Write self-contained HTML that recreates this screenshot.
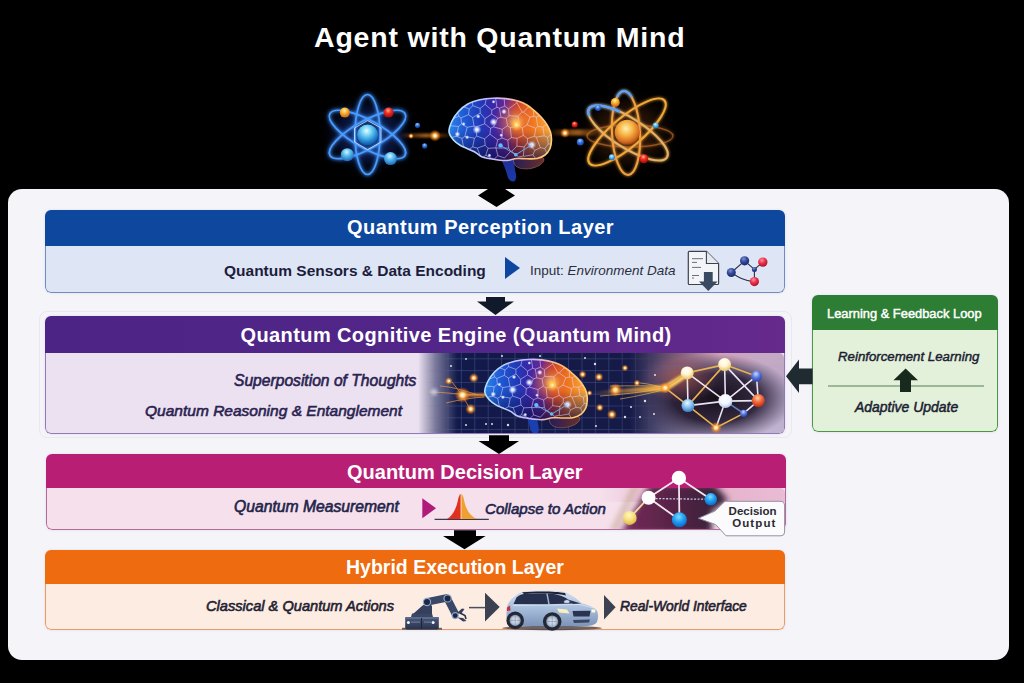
<!DOCTYPE html>
<html><head><meta charset="utf-8">
<style>
*{margin:0;padding:0;box-sizing:border-box}
html,body{width:1024px;height:683px;overflow:hidden;background:#000}
body{position:relative;font-family:"Liberation Sans",sans-serif}
.a{position:absolute}
.t{position:absolute;white-space:nowrap;line-height:1}
#title{left:314px;top:22.8px;font-size:28.5px;font-weight:bold;color:#fff;letter-spacing:0.8px}
#panel{left:8px;top:189px;width:1001px;height:471px;background:#f5f4f9;border-radius:14px}
.box{position:absolute;border-radius:6px;overflow:hidden;box-shadow:0 0 3px rgba(70,50,110,0.10)}
.hd{position:absolute;left:0;top:0;right:0}
.bd{position:absolute;left:0;right:0;bottom:0;border:1px solid;border-top:none;border-radius:0 0 6px 6px}
.hw{color:#fff;font-weight:bold}
.bi{font-weight:bold;font-style:italic}
.md{font-style:italic;-webkit-text-stroke:0.6px currentColor}
svg{position:absolute;overflow:visible}
</style></head><body>
<div class="t" id="title">Agent with Quantum Mind</div>

<!-- TOPART --><svg width="1024" height="200" style="left:0;top:0" viewBox="0 0 1024 200">
 <defs>
  <filter id="gl" x="-50%" y="-50%" width="200%" height="200%"><feGaussianBlur stdDeviation="1.6" result="b"/><feMerge><feMergeNode in="b"/><feMergeNode in="SourceGraphic"/></feMerge></filter>
  <filter id="bl2" x="-50%" y="-50%" width="200%" height="200%"><feGaussianBlur stdDeviation="2.5"/></filter>
  <filter id="bl1" x="-50%" y="-50%" width="200%" height="200%"><feGaussianBlur stdDeviation="1"/></filter>
  <radialGradient id="a1bg" cx="0.5" cy="0.5" r="0.5"><stop offset="0" stop-color="#1a3a8a" stop-opacity="0.9"/><stop offset="0.6" stop-color="#0c1a50" stop-opacity="0.6"/><stop offset="1" stop-color="#000" stop-opacity="0"/></radialGradient>
  <radialGradient id="nucB" cx="0.45" cy="0.3" r="0.7"><stop offset="0" stop-color="#e8fbff"/><stop offset="0.35" stop-color="#6cd0f5"/><stop offset="0.8" stop-color="#1a78c8"/><stop offset="1" stop-color="#0e4e98"/></radialGradient>
  <radialGradient id="ballB" cx="0.45" cy="0.3" r="0.7"><stop offset="0" stop-color="#e0f6ff"/><stop offset="0.4" stop-color="#5cc0f0"/><stop offset="1" stop-color="#1868b8"/></radialGradient>
  <radialGradient id="ballO" cx="0.45" cy="0.3" r="0.7"><stop offset="0" stop-color="#fff0a0"/><stop offset="0.45" stop-color="#f8b030"/><stop offset="1" stop-color="#c86010"/></radialGradient>
  <radialGradient id="ballR" cx="0.45" cy="0.3" r="0.7"><stop offset="0" stop-color="#ffb0a0"/><stop offset="0.4" stop-color="#f03020"/><stop offset="1" stop-color="#a00808"/></radialGradient>
  <radialGradient id="ballDB" cx="0.45" cy="0.3" r="0.7"><stop offset="0" stop-color="#a0d0ff"/><stop offset="0.5" stop-color="#3070e0"/><stop offset="1" stop-color="#1840a0"/></radialGradient>
  <radialGradient id="glowO" cx="0.5" cy="0.5" r="0.5"><stop offset="0" stop-color="#fffdf0"/><stop offset="0.25" stop-color="#ffe0a0"/><stop offset="0.5" stop-color="#ffa030" stop-opacity="0.75"/><stop offset="1" stop-color="#ff6000" stop-opacity="0"/></radialGradient>
  <radialGradient id="glowW" cx="0.5" cy="0.5" r="0.5"><stop offset="0" stop-color="#fff"/><stop offset="0.35" stop-color="#e0e8ff" stop-opacity="0.9"/><stop offset="1" stop-color="#a0b0ff" stop-opacity="0"/></radialGradient>
  <radialGradient id="a2bg" cx="0.5" cy="0.5" r="0.5"><stop offset="0" stop-color="#6a3010" stop-opacity="0.8"/><stop offset="0.6" stop-color="#301808" stop-opacity="0.5"/><stop offset="1" stop-color="#000" stop-opacity="0"/></radialGradient>
  <radialGradient id="nucG" cx="0.45" cy="0.35" r="0.65"><stop offset="0" stop-color="#fff0b0"/><stop offset="0.4" stop-color="#f8b848"/><stop offset="0.8" stop-color="#d87020"/><stop offset="1" stop-color="#a04010"/></radialGradient>
  <linearGradient id="trail" x1="0" y1="0" x2="1" y2="0"><stop offset="0" stop-color="#ff8020" stop-opacity="0"/><stop offset="0.5" stop-color="#ff9a30" stop-opacity="0.8"/><stop offset="1" stop-color="#ff8020" stop-opacity="0"/></linearGradient>
 <clipPath id="brainClip"><path d="M449.0 131.7 C448.8 128.5 450.4 124.4 452.0 121.0 C453.6 117.6 455.9 114.3 458.5 111.5 C461.1 108.7 464.2 106.0 467.8 104.0 C471.4 102.0 475.8 100.8 480.0 99.8 C484.2 98.8 488.5 98.4 492.8 98.2 C497.1 98.0 501.8 98.1 506.0 98.6 C510.2 99.1 514.4 100.0 517.9 101.1 C521.4 102.2 524.2 103.4 527.0 105.0 C529.8 106.6 532.2 108.8 534.6 110.9 C537.0 113.0 539.4 115.2 541.5 117.5 C543.6 119.8 545.6 122.4 547.1 124.8 C548.6 127.2 549.8 129.5 550.5 132.0 C551.2 134.5 551.6 137.2 551.5 140.0 C551.4 142.8 551.1 146.0 550.0 148.5 C548.9 151.0 547.2 153.3 545.0 155.0 C542.8 156.7 540.0 157.9 537.0 158.5 C534.0 159.1 530.3 158.8 527.0 158.8 C523.7 158.8 520.3 158.2 517.0 158.5 C513.7 158.8 510.2 160.2 507.0 160.5 C503.8 160.8 501.0 160.3 498.0 160.0 C495.0 159.7 491.7 159.0 489.0 158.5 C486.3 158.0 484.1 157.9 481.7 156.8 C479.3 155.7 477.2 153.4 474.8 152.0 C472.4 150.6 469.4 149.6 467.0 148.5 C464.6 147.4 462.8 146.9 460.5 145.5 C458.2 144.1 455.4 142.3 453.5 140.0 C451.6 137.7 449.2 134.9 449.0 131.7 Z"/></clipPath>
<filter id="bl05" x="-20%" y="-20%" width="140%" height="140%"><feGaussianBlur stdDeviation="0.5"/></filter>
<linearGradient id="brainG" x1="449" y1="0" x2="552" y2="0" gradientUnits="userSpaceOnUse"><stop offset="0" stop-color="#2c84ec"/><stop offset="0.14" stop-color="#1f5cd6"/><stop offset="0.3" stop-color="#1e3cb8"/><stop offset="0.42" stop-color="#3828a8"/><stop offset="0.55" stop-color="#6a2896"/><stop offset="0.67" stop-color="#c83c2c"/><stop offset="0.82" stop-color="#f07a20"/><stop offset="1" stop-color="#f8b040"/></linearGradient>
<linearGradient id="brainDark" x1="0" y1="98" x2="0" y2="161" gradientUnits="userSpaceOnUse"><stop offset="0" stop-color="#0a1050" stop-opacity="0"/><stop offset="0.5" stop-color="#0a1050" stop-opacity="0"/><stop offset="1" stop-color="#080a40" stop-opacity="0.75"/></linearGradient>
<radialGradient id="brainHi" cx="516" cy="122" r="22" gradientUnits="userSpaceOnUse"><stop offset="0" stop-color="#ffe890" stop-opacity="0.9"/><stop offset="0.4" stop-color="#ff9a30" stop-opacity="0.45"/><stop offset="1" stop-color="#ff6000" stop-opacity="0"/></radialGradient>
<linearGradient id="rimG" x1="449" y1="0" x2="552" y2="0" gradientUnits="userSpaceOnUse"><stop offset="0" stop-color="#b0e4ff"/><stop offset="0.45" stop-color="#c8b8ff"/><stop offset="0.75" stop-color="#ffc070"/><stop offset="1" stop-color="#ffd080"/></linearGradient>
<linearGradient id="stemG" x1="0" y1="157" x2="0" y2="182" gradientUnits="userSpaceOnUse"><stop offset="0" stop-color="#1e2e98"/><stop offset="1" stop-color="#1a3aa8"/></linearGradient>
<linearGradient id="cerebG" x1="514" y1="0" x2="545" y2="0" gradientUnits="userSpaceOnUse"><stop offset="0" stop-color="#281c58"/><stop offset="1" stop-color="#6a3028"/></linearGradient>
<radialGradient id="glowO2" cx="0.5" cy="0.5" r="0.5"><stop offset="0" stop-color="#fffbe0"/><stop offset="0.3" stop-color="#ffd060" stop-opacity="0.9"/><stop offset="1" stop-color="#ff8000" stop-opacity="0"/></radialGradient>
<path id="brainStem" d="M500 157 C503 163 506 170 507.5 176 C508.5 180 511 182 514 181.5 C516.5 180 516.5 176 515.5 172 C514.5 167 514 163 515 158 Z"/>
<g id="brainSym">
 <path d="M514.0 158.0 C515.2 156.4 519.0 156.0 522.0 155.5 C525.0 155.0 528.8 154.8 532.0 155.0 C535.2 155.2 539.0 155.7 541.0 156.5 C543.0 157.3 544.2 158.6 544.0 160.0 C543.8 161.4 542.2 163.6 540.0 165.0 C537.8 166.4 534.2 167.9 531.0 168.5 C527.8 169.1 523.7 169.1 521.0 168.5 C518.3 167.9 516.2 166.8 515.0 165.0 C513.8 163.2 512.8 159.6 514.0 158.0 Z" fill="url(#cerebG)"/>
 <path d="M514.0 158.0 C515.2 156.4 519.0 156.0 522.0 155.5 C525.0 155.0 528.8 154.8 532.0 155.0 C535.2 155.2 539.0 155.7 541.0 156.5 C543.0 157.3 544.2 158.6 544.0 160.0 C543.8 161.4 542.2 163.6 540.0 165.0 C537.8 166.4 534.2 167.9 531.0 168.5 C527.8 169.1 523.7 169.1 521.0 168.5 C518.3 167.9 516.2 166.8 515.0 165.0 C513.8 163.2 512.8 159.6 514.0 158.0 Z" fill="none" stroke="#f0a060" stroke-width="0.6" opacity="0.6"/>
 <path d="M449.0 131.7 C448.8 128.5 450.4 124.4 452.0 121.0 C453.6 117.6 455.9 114.3 458.5 111.5 C461.1 108.7 464.2 106.0 467.8 104.0 C471.4 102.0 475.8 100.8 480.0 99.8 C484.2 98.8 488.5 98.4 492.8 98.2 C497.1 98.0 501.8 98.1 506.0 98.6 C510.2 99.1 514.4 100.0 517.9 101.1 C521.4 102.2 524.2 103.4 527.0 105.0 C529.8 106.6 532.2 108.8 534.6 110.9 C537.0 113.0 539.4 115.2 541.5 117.5 C543.6 119.8 545.6 122.4 547.1 124.8 C548.6 127.2 549.8 129.5 550.5 132.0 C551.2 134.5 551.6 137.2 551.5 140.0 C551.4 142.8 551.1 146.0 550.0 148.5 C548.9 151.0 547.2 153.3 545.0 155.0 C542.8 156.7 540.0 157.9 537.0 158.5 C534.0 159.1 530.3 158.8 527.0 158.8 C523.7 158.8 520.3 158.2 517.0 158.5 C513.7 158.8 510.2 160.2 507.0 160.5 C503.8 160.8 501.0 160.3 498.0 160.0 C495.0 159.7 491.7 159.0 489.0 158.5 C486.3 158.0 484.1 157.9 481.7 156.8 C479.3 155.7 477.2 153.4 474.8 152.0 C472.4 150.6 469.4 149.6 467.0 148.5 C464.6 147.4 462.8 146.9 460.5 145.5 C458.2 144.1 455.4 142.3 453.5 140.0 C451.6 137.7 449.2 134.9 449.0 131.7 Z" fill="url(#brainG)"/>
 <path d="M449.0 131.7 C448.8 128.5 450.4 124.4 452.0 121.0 C453.6 117.6 455.9 114.3 458.5 111.5 C461.1 108.7 464.2 106.0 467.8 104.0 C471.4 102.0 475.8 100.8 480.0 99.8 C484.2 98.8 488.5 98.4 492.8 98.2 C497.1 98.0 501.8 98.1 506.0 98.6 C510.2 99.1 514.4 100.0 517.9 101.1 C521.4 102.2 524.2 103.4 527.0 105.0 C529.8 106.6 532.2 108.8 534.6 110.9 C537.0 113.0 539.4 115.2 541.5 117.5 C543.6 119.8 545.6 122.4 547.1 124.8 C548.6 127.2 549.8 129.5 550.5 132.0 C551.2 134.5 551.6 137.2 551.5 140.0 C551.4 142.8 551.1 146.0 550.0 148.5 C548.9 151.0 547.2 153.3 545.0 155.0 C542.8 156.7 540.0 157.9 537.0 158.5 C534.0 159.1 530.3 158.8 527.0 158.8 C523.7 158.8 520.3 158.2 517.0 158.5 C513.7 158.8 510.2 160.2 507.0 160.5 C503.8 160.8 501.0 160.3 498.0 160.0 C495.0 159.7 491.7 159.0 489.0 158.5 C486.3 158.0 484.1 157.9 481.7 156.8 C479.3 155.7 477.2 153.4 474.8 152.0 C472.4 150.6 469.4 149.6 467.0 148.5 C464.6 147.4 462.8 146.9 460.5 145.5 C458.2 144.1 455.4 142.3 453.5 140.0 C451.6 137.7 449.2 134.9 449.0 131.7 Z" fill="url(#brainDark)"/>
 <path d="M449.0 131.7 C448.8 128.5 450.4 124.4 452.0 121.0 C453.6 117.6 455.9 114.3 458.5 111.5 C461.1 108.7 464.2 106.0 467.8 104.0 C471.4 102.0 475.8 100.8 480.0 99.8 C484.2 98.8 488.5 98.4 492.8 98.2 C497.1 98.0 501.8 98.1 506.0 98.6 C510.2 99.1 514.4 100.0 517.9 101.1 C521.4 102.2 524.2 103.4 527.0 105.0 C529.8 106.6 532.2 108.8 534.6 110.9 C537.0 113.0 539.4 115.2 541.5 117.5 C543.6 119.8 545.6 122.4 547.1 124.8 C548.6 127.2 549.8 129.5 550.5 132.0 C551.2 134.5 551.6 137.2 551.5 140.0 C551.4 142.8 551.1 146.0 550.0 148.5 C548.9 151.0 547.2 153.3 545.0 155.0 C542.8 156.7 540.0 157.9 537.0 158.5 C534.0 159.1 530.3 158.8 527.0 158.8 C523.7 158.8 520.3 158.2 517.0 158.5 C513.7 158.8 510.2 160.2 507.0 160.5 C503.8 160.8 501.0 160.3 498.0 160.0 C495.0 159.7 491.7 159.0 489.0 158.5 C486.3 158.0 484.1 157.9 481.7 156.8 C479.3 155.7 477.2 153.4 474.8 152.0 C472.4 150.6 469.4 149.6 467.0 148.5 C464.6 147.4 462.8 146.9 460.5 145.5 C458.2 144.1 455.4 142.3 453.5 140.0 C451.6 137.7 449.2 134.9 449.0 131.7 Z" fill="url(#brainHi)"/>
 <g clip-path="url(#brainClip)"><path d="M438.6 140.7L445.7 150.4M444.7 155.9L445.7 150.4M561.7 97.0L561.1 105.9M561.7 97.0L553.9 95.8M560.9 118.4L558.3 117.4M558.3 117.4L554.9 107.8M554.9 107.8L561.1 105.9M431.4 119.7L447.1 115.0M431.4 119.7L445.7 127.8M445.7 127.8L448.6 125.5M448.6 125.5L450.5 119.5M447.1 115.0L450.5 119.5M448.9 108.7L432.6 105.5M448.9 108.7L447.1 115.0M438.6 140.7L446.7 135.0M446.7 135.0L445.7 127.8M461.6 123.9L460.9 117.9M461.6 123.9L458.4 126.5M458.9 116.3L460.9 117.9M458.9 116.3L450.5 119.5M458.4 126.5L448.6 125.5M444.7 155.9L448.0 158.1M445.7 150.4L451.8 146.2M446.7 135.0L451.5 137.4M451.8 146.2L451.5 137.4M458.4 126.5L456.8 136.3M456.8 136.3L451.5 137.4M560.9 157.5L557.7 153.2M557.7 153.2L560.6 146.6M553.9 95.8L549.7 102.1M554.9 107.8L549.7 105.0M549.7 105.0L549.7 102.1M549.7 102.1L540.7 95.2M513.0 97.7L504.2 98.6M504.2 98.6L500.0 95.3M517.2 101.0L513.0 97.7M517.2 101.0L525.0 96.2M517.0 102.8L508.6 108.9M517.0 102.8L517.2 101.0M508.6 108.9L504.8 106.2M504.8 106.2L504.2 98.6M461.6 123.9L467.1 127.3M468.5 114.7L460.9 117.9M468.5 114.7L472.6 117.5M472.6 117.5L474.0 126.1M467.1 127.3L474.0 126.1M522.1 112.1L517.9 116.2M522.1 112.1L517.0 102.8M508.6 108.9L509.0 115.7M517.9 116.2L509.0 115.7M517.9 116.2L519.7 126.3M519.7 126.3L510.3 127.5M506.3 118.4L509.0 115.7M506.3 118.4L507.5 125.8M507.5 125.8L510.3 127.5M468.5 114.7L469.2 109.0M458.9 116.3L456.0 107.1M469.2 109.0L460.3 105.5M456.0 107.1L460.3 105.5M448.9 108.7L453.7 105.9M456.0 107.1L453.7 105.9M443.6 96.4L451.7 99.1M455.0 94.4L451.7 99.1M432.6 105.5L443.6 96.4M453.7 105.9L451.7 99.1M465.3 96.6L455.0 94.4M460.3 105.5L465.8 97.6M465.3 96.6L465.8 97.6M540.7 95.2L537.0 95.2M481.8 158.1L480.9 157.5M480.9 157.5L469.0 156.3M468.7 156.8L469.0 156.3M468.7 156.8L461.2 160.3M448.0 158.1L456.4 156.2M451.8 146.2L457.5 149.3M457.5 149.3L456.4 156.2M461.2 160.3L456.4 156.2M504.6 158.0L510.7 151.2M510.7 151.2L511.8 151.3M511.8 151.3L518.7 157.0M548.3 143.9L544.8 148.5M548.3 143.9L547.6 137.3M544.8 148.5L540.4 147.7M544.2 135.8L547.6 137.3M544.2 135.8L536.2 137.1M540.4 147.7L536.2 137.1M551.8 155.4L546.8 153.2M546.8 153.2L539.1 164.2M557.7 153.2L551.8 155.4M548.3 143.9L559.6 145.1M544.8 148.5L546.8 153.2M559.6 145.1L560.6 146.6M533.0 154.7L539.1 164.2M533.0 154.7L534.8 150.3M540.4 147.7L534.8 150.3M524.0 156.3L533.0 154.7M524.0 156.3L523.4 156.0M518.7 157.0L523.4 156.0M552.7 133.3L552.8 129.5M552.7 133.3L559.9 137.4M552.8 129.5L563.4 125.5M559.9 137.4L569.3 130.4M569.3 130.4L563.4 125.5M544.2 135.8L542.9 127.0M547.6 137.3L552.7 133.3M542.9 127.0L548.7 123.3M548.7 123.3L552.8 129.5M559.6 145.1L559.9 137.4M560.9 118.4L563.4 125.5M558.3 117.4L549.0 121.4M549.0 121.4L548.7 123.3M549.0 121.4L543.4 114.0M542.9 127.0L537.7 126.6M537.7 126.6L536.3 117.0M536.3 117.0L543.4 114.0M549.7 105.0L544.7 109.2M543.4 114.0L544.7 109.2M474.4 138.2L464.9 136.4M474.4 138.2L472.7 147.0M463.4 146.3L468.9 149.4M463.4 146.3L461.9 138.4M461.9 138.4L464.9 136.4M472.7 147.0L468.9 149.4M467.1 127.3L464.9 136.4M476.8 136.1L475.8 127.1M476.8 136.1L474.4 138.2M474.0 126.1L475.8 127.1M484.6 138.8L485.2 145.3M484.6 138.8L476.8 136.1M485.2 145.3L477.3 148.1M477.3 148.1L472.7 147.0M469.0 156.3L468.9 149.4M457.5 149.3L463.4 146.3M456.8 136.3L461.9 138.4M480.9 157.5L477.3 148.1M485.8 155.3L488.0 148.3M485.8 155.3L493.8 159.5M488.0 148.3L495.8 147.9M493.8 159.5L497.9 155.7M497.9 155.7L495.9 148.0M495.8 147.9L495.9 148.0M481.8 158.1L485.8 155.3M485.2 145.3L488.0 148.3M504.6 158.0L497.9 155.7M510.7 151.2L508.6 148.1M508.6 148.1L495.9 148.0M511.4 137.6L507.8 140.1M511.4 137.6L517.1 138.3M511.8 151.3L516.9 146.1M508.6 148.1L507.8 140.1M517.1 138.3L516.9 146.1M523.4 156.0L524.2 147.0M516.9 146.1L524.2 147.0M534.8 150.3L527.4 142.7M524.2 147.0L527.4 142.7M537.0 95.2L534.5 97.5M544.7 109.2L536.7 104.5M536.7 104.5L534.5 97.5M525.0 96.2L527.6 97.4M527.6 97.4L534.5 97.5M530.0 117.1L533.8 116.4M530.0 117.1L523.5 112.2M533.8 116.4L533.3 107.3M523.5 112.2L528.2 107.1M528.2 107.1L533.3 107.3M536.3 117.0L533.8 116.4M536.7 104.5L533.3 107.3M522.1 112.1L523.5 112.2M527.6 97.4L528.2 107.1M504.8 106.2L499.5 108.2M506.3 118.4L501.0 117.3M499.5 108.2L501.0 117.3M469.2 109.0L472.9 105.7M472.6 117.5L480.2 113.1M480.2 113.1L480.1 108.4M480.1 108.4L472.9 105.7M465.8 97.6L471.6 99.9M478.2 94.1L471.6 99.9M472.9 105.7L471.6 99.9M507.8 140.1L502.0 138.0M495.8 147.9L497.7 139.9M497.7 139.9L502.0 138.0M484.6 138.8L490.0 134.2M497.7 139.9L490.0 134.2M511.4 137.6L510.3 127.5M507.5 125.8L502.3 129.3M502.0 138.0L502.3 129.3M523.4 135.4L527.5 138.5M523.4 135.4L522.2 128.1M522.2 128.1L527.1 124.8M527.1 124.8L535.8 128.3M527.5 138.5L534.5 136.3M535.8 128.3L534.5 136.3M517.1 138.3L523.4 135.4M527.4 142.7L527.5 138.5M519.7 126.3L522.2 128.1M530.0 117.1L527.1 124.8M537.7 126.6L535.8 128.3M536.2 137.1L534.5 136.3M496.9 107.3L491.8 110.2M496.9 107.3L495.6 98.1M491.8 110.2L485.1 104.3M495.6 98.1L487.7 98.1M485.1 104.3L486.2 98.9M487.7 98.1L486.2 98.9M500.0 95.3L495.6 98.1M499.5 108.2L496.9 107.3M480.1 108.4L485.1 104.3M478.2 94.1L486.2 98.9M497.7 118.2L491.7 114.1M497.7 118.2L493.6 126.9M491.7 114.1L484.9 118.7M493.6 126.9L490.5 128.3M490.5 128.3L484.7 123.8M484.7 123.8L484.9 118.7M501.0 117.3L497.7 118.2M491.8 110.2L491.7 114.1M502.3 129.3L493.6 126.9M480.2 113.1L484.9 118.7M490.0 134.2L490.5 128.3M475.8 127.1L484.7 123.8" stroke="#ecdcff" stroke-width="0.7" fill="none" opacity="0.75"/></g>
 <path d="M449.0 131.7 C448.8 128.5 450.4 124.4 452.0 121.0 C453.6 117.6 455.9 114.3 458.5 111.5 C461.1 108.7 464.2 106.0 467.8 104.0 C471.4 102.0 475.8 100.8 480.0 99.8 C484.2 98.8 488.5 98.4 492.8 98.2 C497.1 98.0 501.8 98.1 506.0 98.6 C510.2 99.1 514.4 100.0 517.9 101.1 C521.4 102.2 524.2 103.4 527.0 105.0 C529.8 106.6 532.2 108.8 534.6 110.9 C537.0 113.0 539.4 115.2 541.5 117.5 C543.6 119.8 545.6 122.4 547.1 124.8 C548.6 127.2 549.8 129.5 550.5 132.0 C551.2 134.5 551.6 137.2 551.5 140.0 C551.4 142.8 551.1 146.0 550.0 148.5 C548.9 151.0 547.2 153.3 545.0 155.0 C542.8 156.7 540.0 157.9 537.0 158.5 C534.0 159.1 530.3 158.8 527.0 158.8 C523.7 158.8 520.3 158.2 517.0 158.5 C513.7 158.8 510.2 160.2 507.0 160.5 C503.8 160.8 501.0 160.3 498.0 160.0 C495.0 159.7 491.7 159.0 489.0 158.5 C486.3 158.0 484.1 157.9 481.7 156.8 C479.3 155.7 477.2 153.4 474.8 152.0 C472.4 150.6 469.4 149.6 467.0 148.5 C464.6 147.4 462.8 146.9 460.5 145.5 C458.2 144.1 455.4 142.3 453.5 140.0 C451.6 137.7 449.2 134.9 449.0 131.7 Z" fill="none" stroke="url(#rimG)" stroke-width="1.6" filter="url(#bl05)"/>
 <circle cx="493.5" cy="101.8" r="2" fill="url(#glowW)"/>
 <circle cx="504" cy="111.6" r="3" fill="url(#glowW)"/>
 <circle cx="478.2" cy="116.4" r="2.4" fill="url(#glowW)"/>
 <circle cx="493.5" cy="122" r="4.2" fill="url(#glowW)"/>
 <circle cx="463.6" cy="124" r="2.2" fill="url(#glowW)"/>
 <circle cx="476.9" cy="129.6" r="4.6" fill="url(#glowW)"/>
 <circle cx="457.4" cy="134.2" r="3" fill="url(#glowW)"/>
 <circle cx="467.1" cy="137.3" r="2.2" fill="url(#glowW)"/>
 <circle cx="501.2" cy="135.2" r="2" fill="url(#glowW)"/>
 <circle cx="489.4" cy="155.4" r="2.2" fill="url(#glowW)"/>
 <circle cx="516.5" cy="124.8" r="7" fill="url(#glowO2)"/>
 <circle cx="531.8" cy="144.9" r="4.6" fill="url(#glowW)"/>
 <circle cx="500.5" cy="145.4" r="2.2" fill="#5cc0ff"/>
 <circle cx="515.8" cy="154.7" r="1.8" fill="#6ab8ff"/>
 <path d="M500.5 145.4 L515.8 154.7 L531.8 144.9" stroke="#60b8ff" stroke-width="0.9" fill="none"/>
</g>
 </defs>

 <!-- atom 1 -->
 <ellipse cx="368" cy="135" rx="50" ry="42" fill="url(#a1bg)"/>
 <g fill="none" stroke="#2a70e0" stroke-width="4" opacity="0.45" filter="url(#bl2)">
  <ellipse cx="367.5" cy="134.5" rx="12.5" ry="40"/>
  <ellipse cx="367.5" cy="134.5" rx="43" ry="14" transform="rotate(29 367.5 134.5)"/>
  <ellipse cx="367.5" cy="134.5" rx="43" ry="14" transform="rotate(-29 367.5 134.5)"/>
 </g>
 <g fill="none" stroke="#4a9cff" stroke-width="1.7" filter="url(#gl)">
  <ellipse cx="367.5" cy="134.5" rx="12.5" ry="40"/>
  <ellipse cx="367.5" cy="134.5" rx="43" ry="14" transform="rotate(29 367.5 134.5)"/>
  <ellipse cx="367.5" cy="134.5" rx="43" ry="14" transform="rotate(-29 367.5 134.5)"/>
 </g>
 <g fill="none" stroke="#d8ecff" stroke-width="1" opacity="0.75">
  <path d="M354.5 128 L367.6 120.5 L381 128 L381 142 L367.6 149.7 L354.5 142 Z"/>
 </g>
 <circle cx="367.6" cy="135" r="10.5" fill="url(#nucB)"/>
 <circle cx="344.8" cy="112.6" r="5" fill="url(#ballO)"/>
 <circle cx="388.6" cy="112.6" r="5" fill="url(#ballR)"/>
 <circle cx="347.3" cy="154.7" r="6.5" fill="url(#ballB)"/>
 <circle cx="390.5" cy="158.6" r="6.5" fill="url(#ballB)"/>
 <!-- trail 1 -->
 <rect x="398" y="133.5" width="56" height="4" fill="url(#trail)" filter="url(#bl1)" opacity="0.8"/>
 <circle cx="417.5" cy="125.3" r="2.6" fill="url(#ballDB)"/>
 <circle cx="424.7" cy="145.9" r="2.6" fill="url(#ballDB)"/>
 <circle cx="435" cy="135.7" r="6" fill="url(#glowO)"/>
 <circle cx="411" cy="136" r="3" fill="url(#glowO)"/>

 <!-- brain -->
 <use href="#brainStem" fill="url(#stemG)"/>
 <use href="#brainSym"/>

 <!-- trail 2 -->
 <rect x="548" y="129.5" width="62" height="6" fill="url(#trail)" filter="url(#bl1)" opacity="0.85"/>
 <circle cx="565" cy="133" r="5" fill="url(#glowO)"/>

 <!-- atom 2 -->
 <ellipse cx="627" cy="133" rx="55" ry="45" fill="url(#a2bg)"/>
 <g fill="none" stroke-width="2" filter="url(#gl)">
  <ellipse cx="630" cy="136" rx="43" ry="11" stroke="#c87028" stroke-width="1.4" opacity="0.6"/>
  <ellipse cx="627" cy="132" rx="49" ry="15" stroke="#f4a838" transform="rotate(-40 627 132)"/>
  <ellipse cx="628" cy="133" rx="46" ry="15" stroke="#e8b060" transform="rotate(32 628 133)"/>
  <ellipse cx="626" cy="133" rx="14" ry="42" stroke="#f0a040" transform="rotate(-3 626 133)"/>
 </g>
 <clipPath id="a2c1"><rect x="560" y="80" width="60" height="36"/></clipPath>
 <clipPath id="a2c2"><rect x="600" y="80" width="50" height="17"/></clipPath>
 <g fill="none" stroke="#5aa0ff" stroke-width="2" filter="url(#gl)">
  <g clip-path="url(#a2c1)"><ellipse cx="628" cy="133" rx="46" ry="15" transform="rotate(32 628 133)"/></g>
  <g clip-path="url(#a2c2)"><ellipse cx="626" cy="133" rx="14" ry="42" transform="rotate(-3 626 133)"/></g>
 </g>
 <circle cx="627.2" cy="132.3" r="12.5" fill="url(#nucG)"/>
 <circle cx="615.3" cy="102.4" r="4.5" fill="url(#ballO)"/>
 <circle cx="598" cy="108" r="3" fill="url(#ballDB)"/>
 <circle cx="574.7" cy="124.6" r="3" fill="url(#ballR)"/>
 <circle cx="655.7" cy="125.6" r="3" fill="url(#ballB)"/>
 <circle cx="580.3" cy="142" r="3.5" fill="url(#ballDB)"/>
 <circle cx="611.9" cy="157.3" r="3" fill="url(#ballB)"/>
 <circle cx="643.8" cy="158.7" r="4.5" fill="url(#ballR)"/>
</svg>
<!-- /TOPART -->

<div class="a" id="panel"></div>

<div class="a" style="left:39px;top:311px;width:753px;height:127px;border:1px solid #e9e8ee;border-radius:8px"></div>
<!-- Perception -->
<div class="box" style="left:45px;top:210px;width:740px;height:83px">
  <div class="hd" style="height:35.5px;background:#0e489e"></div>
  <div class="bd" style="top:35.5px;background:#dee6f6;border-color:#6f8cc4"></div>
</div>
<!-- Cognitive -->
<div class="box" style="left:45px;top:316px;width:740px;height:118px">
  <div class="hd" style="height:37px;background:linear-gradient(90deg,#4c2486 0%,#532689 60%,#66298c 100%)"></div>
  <div class="bd" style="top:37px;background:#ece1f1;border-color:#9479b8"></div>
</div>
<!-- Decision -->
<div class="box" style="left:46px;top:454px;width:740px;height:75.5px">
  <div class="hd" style="height:34px;background:#b81f74"></div>
  <div class="bd" style="top:34px;background:#f5e0ec;border-color:#b36b99"></div>
</div>
<!-- Hybrid -->
<div class="box" style="left:45px;top:550px;width:740px;height:80px">
  <div class="hd" style="height:34px;background:#ee6b10"></div>
  <div class="bd" style="top:34px;background:#fdece1;border-color:#eb9a66"></div>
</div>
<!-- Feedback -->
<div class="box" style="left:812px;top:295px;width:186px;height:137px">
  <div class="hd" style="height:35px;background:#2e7d34"></div>
  <div class="bd" style="top:35px;background:#e3f1da;border-color:#4a9646;border-width:0 1.8px 1.8px 1.8px"></div>
</div>

<!-- PERCART --><svg width="1024" height="683" style="left:0;top:0" viewBox="0 0 1024 683">
 <defs>
  <radialGradient id="mBlue" cx="0.4" cy="0.3" r="0.7"><stop offset="0" stop-color="#7a90d8"/><stop offset="0.5" stop-color="#34489a"/><stop offset="1" stop-color="#1c2a68"/></radialGradient>
  <radialGradient id="mRed" cx="0.4" cy="0.3" r="0.7"><stop offset="0" stop-color="#ff90a0"/><stop offset="0.5" stop-color="#e8304a"/><stop offset="1" stop-color="#b01028"/></radialGradient>
 </defs>
 <path d="M689.3 251.3 L706.4 251.3 L718.6 263.5 L718.6 283.5 Q718.6 284.5 717.6 284.5 L689.3 284.5 Q688.3 284.5 688.3 283.5 L688.3 252.3 Q688.3 251.3 689.3 251.3 Z" fill="#f2f4f8" stroke="#3c414c" stroke-width="1.2"/>
 <path d="M706.4 251.3 L706.4 263.5 L718.6 263.5" fill="#e4e8f0" stroke="#3c414c" stroke-width="1.1"/>
 <g stroke="#5a6070" stroke-width="0.9">
  <path d="M692 258.7 H703"/><path d="M692 262.4 H697"/><path d="M692 267.4 H701"/><path d="M692 275.5 H699"/><path d="M692 278 H694"/>
 </g>
 <path d="M703.9 271.9 L712.7 271.9 L712.7 281.6 L717.6 281.6 L708.3 290.9 L699 281.6 L703.9 281.6 Z" fill="#3a4a62"/>
 <g stroke="#2a3048" stroke-width="1.1" fill="none">
  <path d="M731.3 272.5 L744.6 260.8"/><path d="M744.6 260.8 L754.4 269.4"/><path d="M754.4 269.4 L762.8 262.1"/><path d="M754.4 269.4 L754.4 281.6"/>
  <path d="M731.3 272.5 C738 277 744 281 754.4 281.6"/>
 </g>
 <circle cx="731.3" cy="272.5" r="4.5" fill="url(#mBlue)"/>
 <circle cx="744.6" cy="260.8" r="4.6" fill="url(#mBlue)"/>
 <circle cx="754.4" cy="269.4" r="2.5" fill="url(#mBlue)"/>
 <circle cx="762.8" cy="262.1" r="4.7" fill="url(#mRed)"/>
 <circle cx="754.4" cy="281.6" r="4.6" fill="url(#mRed)"/>
</svg>
<!-- /PERCART -->
<!-- COGART --><svg width="1024" height="683" style="left:0;top:0" viewBox="0 0 1024 683">
 <defs>
  <clipPath id="cogclip"><rect x="46" y="353" width="738" height="80" rx="5"/></clipPath>
  <linearGradient id="cogDark" x1="418" y1="0" x2="720" y2="0" gradientUnits="userSpaceOnUse">
   <stop offset="0" stop-color="#121a4a" stop-opacity="0"/>
   <stop offset="0.06" stop-color="#1a2050" stop-opacity="0.55"/>
   <stop offset="0.13" stop-color="#121a4a" stop-opacity="1"/>
   <stop offset="0.7" stop-color="#161a46" stop-opacity="1"/>
   <stop offset="1" stop-color="#1d1838" stop-opacity="0"/>
  </linearGradient>
  <linearGradient id="cogRight" x1="0" y1="0" x2="0" y2="1"><stop offset="0" stop-color="#c4a8c4"/><stop offset="0.5" stop-color="#b8a8c8"/><stop offset="1" stop-color="#c0b4d0"/></linearGradient>
  <linearGradient id="cogTop" x1="0" y1="0" x2="1" y2="0"><stop offset="0" stop-color="#d09098" stop-opacity="0"/><stop offset="0.3" stop-color="#d8909c" stop-opacity="0.7"/><stop offset="0.7" stop-color="#d0a0b8" stop-opacity="0.5"/><stop offset="1" stop-color="#d0b8d0" stop-opacity="0"/></linearGradient>
  <radialGradient id="netDark" cx="0.5" cy="0.5" r="0.5">
   <stop offset="0" stop-color="#170f1a" stop-opacity="1"/>
   <stop offset="0.55" stop-color="#231a30" stop-opacity="0.9"/>
   <stop offset="1" stop-color="#3a3050" stop-opacity="0"/>
  </radialGradient>
  <radialGradient id="netWarm" cx="0.5" cy="0.5" r="0.5">
   <stop offset="0" stop-color="#e07040" stop-opacity="0.55"/>
   <stop offset="1" stop-color="#c06080" stop-opacity="0"/>
  </radialGradient>
  <linearGradient id="beam" x1="590" y1="0" x2="690" y2="0" gradientUnits="userSpaceOnUse">
   <stop offset="0" stop-color="#ffa030" stop-opacity="0"/>
   <stop offset="0.6" stop-color="#ffb838" stop-opacity="0.85"/>
   <stop offset="1" stop-color="#ffe080" stop-opacity="1"/>
  </linearGradient>
  <radialGradient id="nCream" cx="0.45" cy="0.3" r="0.7"><stop offset="0" stop-color="#ffffff"/><stop offset="0.5" stop-color="#fff4d0"/><stop offset="1" stop-color="#e8c060"/></radialGradient>
  <radialGradient id="nWhite" cx="0.45" cy="0.3" r="0.7"><stop offset="0" stop-color="#ffffff"/><stop offset="0.6" stop-color="#eef4ff"/><stop offset="1" stop-color="#a8c0e0"/></radialGradient>
  <radialGradient id="nLBlue" cx="0.45" cy="0.3" r="0.7"><stop offset="0" stop-color="#f0f8ff"/><stop offset="0.45" stop-color="#90c8f0"/><stop offset="1" stop-color="#3878c8"/></radialGradient>
  <radialGradient id="nBlue" cx="0.45" cy="0.3" r="0.7"><stop offset="0" stop-color="#c8d8ff"/><stop offset="0.5" stop-color="#5878e0"/><stop offset="1" stop-color="#2840a8"/></radialGradient>
  <radialGradient id="nRed" cx="0.45" cy="0.3" r="0.7"><stop offset="0" stop-color="#ffd0a0"/><stop offset="0.45" stop-color="#f07040"/><stop offset="1" stop-color="#c02818"/></radialGradient>
 </defs>
 <linearGradient id="gmG" x1="425" y1="0" x2="675" y2="0" gradientUnits="userSpaceOnUse"><stop offset="0" stop-color="#fff" stop-opacity="0"/><stop offset="0.1" stop-color="#fff" stop-opacity="1"/><stop offset="0.75" stop-color="#fff" stop-opacity="1"/><stop offset="1" stop-color="#fff" stop-opacity="0"/></linearGradient>
 <mask id="gridMask" maskUnits="userSpaceOnUse" x="420" y="350" width="260" height="90"><rect x="420" y="350" width="260" height="90" fill="url(#gmG)"/></mask>
 <g clip-path="url(#cogclip)">
  <rect x="600" y="353" width="185" height="80" fill="url(#cogRight)"/>
  <rect x="630" y="353" width="155" height="12" fill="url(#cogTop)"/>
  <rect x="415" y="353" width="305" height="80" fill="url(#cogDark)"/>
  <ellipse cx="716" cy="398" rx="78" ry="44" fill="url(#netDark)"/>
  <ellipse cx="680" cy="378" rx="40" ry="25" fill="url(#netWarm)"/>
  <!-- grid -->
  <g stroke="#5a6aa8" stroke-width="0.7" opacity="0.55" mask="url(#gridMask)">
   <path d="M434.6 353V433M448 353V433M461.4 353V433M474.8 353V433M488.2 353V433M501.6 353V433M515 353V433M528.4 353V433M541.8 353V433M555.2 353V433M568.6 353V433M582 353V433M595.4 353V433M608.8 353V433M622.2 353V433M635.6 353V433M649 353V433M662.4 353V433"/>
   <path d="M425 358.8H670M425 370.6H670M425 382.4H670M425 394.2H670M425 406H670M425 417.8H670M425 429.6H670"/>
  </g>
  <!-- left streaks -->
  <g stroke="#ffa040" stroke-width="0.8" opacity="0.8" fill="none">
   <path d="M428 392 C445 392 460 395 486 395"/>
   <path d="M440 386 C455 387 468 392 478 395"/>
   <path d="M446 403 C458 400 470 398 484 397"/>
   <path d="M452 382 L462 395 L470 409"/>
  </g>
  <rect x="462" y="393.5" width="24" height="3" fill="#ff9a30" opacity="0.8" filter="url(#bl1)"/>
  <g>
   <circle cx="462.5" cy="395" r="8" fill="url(#glowO)"/>
   <circle cx="473.8" cy="378" r="5" fill="url(#glowO)"/>
   <circle cx="448.8" cy="381" r="4" fill="url(#glowO)"/>
   <circle cx="434" cy="392" r="6" fill="url(#glowW)" opacity="0.5"/>
   <circle cx="470.7" cy="409" r="5.5" fill="url(#glowO)"/>
   <circle cx="582.6" cy="374.4" r="4" fill="url(#glowO)"/>
   <circle cx="599" cy="377" r="4.5" fill="url(#glowO)"/>
   <circle cx="589.5" cy="393" r="3" fill="url(#glowO)"/>
   <circle cx="615.4" cy="390" r="7" fill="url(#glowO)"/>
   <circle cx="625" cy="368" r="3.5" fill="url(#glowO)"/>
   <circle cx="637" cy="383" r="3.5" fill="url(#glowO)"/>
   <circle cx="599.8" cy="407.6" r="4" fill="url(#glowO)"/>
   <circle cx="611.9" cy="414.5" r="5" fill="url(#glowO)"/>
  </g>
  <g fill="#fff" opacity="0.85">
   <circle cx="451" cy="366" r="1"/><circle cx="466" cy="359" r="0.9"/><circle cx="502" cy="356" r="1"/>
   <circle cx="540" cy="356" r="1"/><circle cx="585" cy="358" r="1"/><circle cx="595" cy="364" r="1.2"/>
   <circle cx="466" cy="425" r="1"/><circle cx="486" cy="424" r="1"/><circle cx="492" cy="424" r="1"/>
   <circle cx="508" cy="425" r="1.2"/><circle cx="625" cy="417" r="1.2"/><circle cx="631" cy="407" r="1"/>
   <circle cx="645" cy="401" r="1.2"/><circle cx="655" cy="375" r="1"/><circle cx="640" cy="417" r="1"/>
   <circle cx="596" cy="426" r="1"/><circle cx="654" cy="414" r="1"/>
  </g>
  <!-- beam -->
  <path d="M590 392 C612 390 640 387 664 385 L686 372 L689 376 L667 391 C640 392 612 394 590 394 Z" fill="url(#beam)" filter="url(#bl1)"/>
  <g stroke="#ffc050" stroke-width="0.7" fill="none" opacity="0.85">
   <path d="M600 396 C625 394 645 392 665 388"/><path d="M610 386 C630 386 648 385 665 387"/><path d="M620 399 C638 396 652 393 666 389"/>
   <path d="M640 383 C650 384 658 386 665 388"/>
  </g>
  <!-- brain -->
  <path d="M524 411 C527 417 529 423 530 428 C531 432 533 434 537 433.5 C539.5 432 539 428 538 424 C537 420 537 416 538 412 Z" fill="#1a40b0"/>
  <use href="#brainSym" transform="translate(484.8 359.3) scale(1.0 0.965) translate(-449 -98)"/>
  <!-- network edges -->
  <g stroke-width="1.6" fill="none" stroke-linecap="round">
   <g stroke="#e8b050">
    <path d="M687.2 372.9 L724.6 364.6"/><path d="M687.2 372.9 L665.2 387.8"/><path d="M724.6 364.6 L688 405.6"/>
    <path d="M724.6 364.6 L756.5 376.2"/><path d="M688 405.6 L716 427.7"/><path d="M716 427.7 L743.7 413.4"/>
    <path d="M665.2 387.8 L688 405.6"/>
   </g>
   <g stroke="#e8e4f0">
    <path d="M687.2 372.9 L688 405.6"/><path d="M687.2 372.9 L725.4 401.1"/><path d="M724.6 364.6 L725.4 401.1"/>
    <path d="M724.6 364.6 L758.3 400.6"/><path d="M756.5 376.2 L725.4 401.1"/><path d="M756.5 376.2 L758.3 400.6"/>
    <path d="M688 405.6 L725.4 401.1"/><path d="M725.4 401.1 L758.3 400.6"/><path d="M725.4 401.1 L716 427.7"/>
    <path d="M743.7 413.4 L758.3 400.6"/>
   </g>
   <path d="M725.4 401.1 L743.7 413.4" stroke="#6080d0"/>
  </g>
  <circle cx="665.2" cy="387.8" r="6" fill="url(#glowO)"/>
  <circle cx="716" cy="427.7" r="6" fill="url(#glowO)"/>
  <circle cx="687.2" cy="372.9" r="6.5" fill="url(#nCream)"/>
  <circle cx="724.6" cy="364.6" r="6.5" fill="url(#nCream)"/>
  <circle cx="756.5" cy="376.2" r="5.5" fill="url(#nBlue)"/>
  <circle cx="688" cy="405.6" r="6.5" fill="url(#nLBlue)"/>
  <circle cx="725.4" cy="401.1" r="7" fill="url(#nWhite)"/>
  <circle cx="758.3" cy="400.6" r="6.5" fill="url(#nRed)"/>
  <circle cx="743.7" cy="413.4" r="3.6" fill="url(#nBlue)"/>
 </g>
</svg>
<!-- /COGART -->
<!-- DECART --><svg width="1024" height="683" style="left:0;top:0" viewBox="0 0 1024 683">
 <defs>
  <radialGradient id="decDark" cx="0.5" cy="0.5" r="0.5">
   <stop offset="0" stop-color="#2a1a30" stop-opacity="1"/>
   <stop offset="0.6" stop-color="#3e2038" stop-opacity="0.92"/>
   <stop offset="1" stop-color="#a06080" stop-opacity="0"/>
  </radialGradient>
  <linearGradient id="decPink" x1="0" y1="0" x2="1" y2="0"><stop offset="0" stop-color="#e8b0c8" stop-opacity="0"/><stop offset="0.4" stop-color="#e0a0c0" stop-opacity="0.8"/><stop offset="1" stop-color="#e8b8d0" stop-opacity="0.9"/></linearGradient>
  <radialGradient id="nYel" cx="0.45" cy="0.3" r="0.7"><stop offset="0" stop-color="#fff8c0"/><stop offset="0.5" stop-color="#f8e080"/><stop offset="1" stop-color="#e0b840"/></radialGradient>
  <radialGradient id="nSky" cx="0.45" cy="0.3" r="0.7"><stop offset="0" stop-color="#80d8ff"/><stop offset="0.5" stop-color="#20a0f0"/><stop offset="1" stop-color="#0a68c8"/></radialGradient>
  <linearGradient id="decDark2" x1="615" y1="0" x2="720" y2="0" gradientUnits="userSpaceOnUse"><stop offset="0" stop-color="#7a2c5c"/><stop offset="0.5" stop-color="#5a2448"/><stop offset="1" stop-color="#362438"/></linearGradient>
  <filter id="bl3" x="-20%" y="-20%" width="140%" height="140%"><feGaussianBlur stdDeviation="3"/></filter>
  <clipPath id="decclip"><rect x="47" y="488" width="738" height="41" rx="5"/></clipPath>
 </defs>
 <g clip-path="url(#decclip)">
  <rect x="600" y="488" width="185" height="14" fill="url(#decPink)"/>
  <path d="M640 486 L617 531 L609 531 L632 486 Z" fill="#c0a088" opacity="0.5" filter="url(#bl2)"/>
  <path d="M650 484 L714 484 L728 500 L712 512 L712 534 L620 534 Z" fill="url(#decDark2)" filter="url(#bl3)"/>
 </g>
 <!-- bell curve -->
 <line x1="434.6" y1="519.4" x2="488.8" y2="519.4" stroke="#3a3a4a" stroke-width="1.2"/>
 <path d="M447 519 C452 516 456 510 458 500 C459 495 460 494 461 494 L461 519 Z" fill="#e03020"/>
 <path d="M461 494 C462 494 463 495 464 500 C466 510 470 516 477 519 L461 519 Z" fill="#f0a030"/>
 <line x1="461" y1="494" x2="461" y2="519" stroke="#fff0d0" stroke-width="0.8"/>
 <!-- graph -->
 <g stroke-width="1.8" fill="none" stroke="#f4e6f0" stroke-linecap="round">
  <path d="M678.9 478 L648.6 497.7"/><path d="M678.9 478 L710.8 499.3"/><path d="M678.9 478 L679.4 519.8"/>
  <path d="M648.6 497.7 L679.4 519.8"/><path d="M648.6 497.7 L629.7 517.9" stroke="#f0dca0"/>
 </g>
 <path d="M648.6 498.5 L710.8 499.3" stroke="#c0c8e8" stroke-width="1.3" stroke-dasharray="2 1.5"/>
 <circle cx="678.9" cy="478" r="7.2" fill="#fff"/>
 <circle cx="648.6" cy="497.7" r="7" fill="#fff"/>
 <circle cx="710.8" cy="499.3" r="6.2" fill="url(#nSky)"/>
 <circle cx="679.4" cy="519.8" r="7.5" fill="url(#nSky)"/>
 <circle cx="629.7" cy="517.9" r="7" fill="url(#nYel)"/>
 <!-- callout -->
 <path d="M725 501.3 L781 501.3 Q784.6 501.3 784.6 505 L784.6 532 Q784.6 535.8 781 535.8 L726 535.8 L715.6 524.5 L698.5 518.3 L715 511 Z" fill="#fbfafc" stroke="#9890a0" stroke-width="1"/>
</svg>
<div class="t" style="left:728.6px;top:506px;font-size:11.5px;font-weight:bold;color:#2a2a30">Decision</div>
<div class="t" style="left:732.2px;top:518.3px;font-size:11.5px;font-weight:bold;color:#2a2a30;letter-spacing:1.1px">Output</div>
<!-- /DECART -->
<!-- HYBART --><svg width="1024" height="683" style="left:0;top:0" viewBox="0 0 1024 683">
 <defs>
  <linearGradient id="carBody" x1="0" y1="0" x2="0" y2="1"><stop offset="0" stop-color="#d4e0f2"/><stop offset="0.5" stop-color="#a8bedc"/><stop offset="1" stop-color="#7e94b8"/></linearGradient>
  <linearGradient id="robG" x1="0" y1="0" x2="0" y2="1"><stop offset="0" stop-color="#4a5878"/><stop offset="1" stop-color="#28324c"/></linearGradient>
  <radialGradient id="rim" cx="0.5" cy="0.5" r="0.5"><stop offset="0" stop-color="#e8eef8"/><stop offset="0.7" stop-color="#b8c4d8"/><stop offset="1" stop-color="#8090a8"/></radialGradient>
 </defs>
 <!-- ground shadow -->
 <rect x="402" y="627.8" width="40" height="1.8" fill="#3a3c48" opacity="0.8"/>
 <!-- robot -->
 <g>
  <rect x="405.2" y="617" width="33.6" height="12.6" rx="2" fill="url(#robG)"/>
  <rect x="405.2" y="617" width="33.6" height="2" fill="#5a6a8c"/>
  <line x1="421.5" y1="618" x2="421.5" y2="629" stroke="#1e2538" stroke-width="1"/>
  <rect x="411" y="621.5" width="9" height="1.2" fill="#6a7898"/>
  <rect x="424" y="621.5" width="7" height="1.2" fill="#6a7898"/>
  <circle cx="408.4" cy="622.6" r="1.5" fill="#f0f4ff"/>
  <circle cx="433.1" cy="622.6" r="1.5" fill="#f0f4ff"/>
  <path d="M411 617 L412 613.5 L432 613.5 L433 617 Z" fill="#3a4764"/>
  <path d="M413 614 L422 606 L428 602 L432 606 L432 614 Z" fill="#34405c"/>
  <path d="M425 598.5 L447 594 L450.5 601 L428.5 605.5 Z" fill="#3a4868"/>
  <path d="M444 600 L450.5 596.5 L459 613 L453 617.5 Z" fill="#3a4868"/>
  <circle cx="427" cy="602" r="3.6" fill="#1e2640" stroke="#8aa4d0" stroke-width="1.2"/>
  <circle cx="447.6" cy="598.4" r="3.6" fill="#1e2640" stroke="#8aa4d0" stroke-width="1.2"/>
  <circle cx="455.2" cy="615.6" r="3" fill="#1e2640" stroke="#8aa4d0" stroke-width="1.1"/>
  <path d="M457 613 L462 608.5 L464.5 609 L461 614 Z" fill="#34405e"/>
  <path d="M457.5 617.5 L463 618 L466.5 621 L463 621.5 Z" fill="#34405e"/>
  <path d="M460 613 L465 615.5 L466 619" stroke="#2a3450" stroke-width="1.6" fill="none"/>
 </g>
 <!-- car -->
 <g>
  <ellipse cx="552" cy="628" rx="50" ry="2.2" fill="#2a2c38" opacity="0.7"/>
  <path d="M506.5 610 C507 604 510 600 514 597 C517 594 520 592 526 591.3 C536 590.3 552 590.3 562 591.3 C569 593 576 598 582 603.5 C588 605 594 607 596.5 610 C598.5 613 598.5 618 597 622 C595 625 590 626 586 626 L515 626 C510 625 507 622 506.5 618 Z" fill="url(#carBody)"/>
  <path d="M513.5 604 L516.5 597.5 C518.5 595 522 594 527 593.7 L548 593.5 C555 593.7 560 595 566 598 L573 603.6 L546 604.3 Z" fill="#26304c"/>
  <path d="M522 592.3 C535 591 556 591 565 593 L566 595.5 C558 593.5 540 593 524 594 Z" fill="#1c2236"/>
  <path d="M547 593.6 L549 604.3" stroke="#9fb4d2" stroke-width="1.5"/>
  <path d="M568 599.6 L581 603.6 L573 604 Z" fill="#2a3452"/>
  <path d="M513 605.5 L548 605 L580 604.5 L594 608" stroke="#e8eef8" stroke-width="0.8" fill="none" opacity="0.8"/>
  <path d="M557 608.5 L567 609.5 L569.5 613.5 L559 612.5 Z" fill="#f8f0c0"/>
  <path d="M572.5 611 L590.5 610.8 L589.5 616.5 L573.5 616.5 Z" fill="#2a3350"/>
  <path d="M573 620 L590 619.5 L589 622.5 L574 623 Z" fill="#3a4662"/>
  <path d="M591.5 609.3 L595.5 609.5 L595 612.5 L591.5 612.5 Z" fill="#fff8d8"/>
  <path d="M507 607.5 L510 605.5 L510.5 610.5 L507 611 Z" fill="#c83040"/>
  <path d="M564 601.5 C565 599.5 569 599.5 569.5 601.5 L569 603 L564.5 603 Z" fill="#d0dcef" stroke="#7890b0" stroke-width="0.5"/>
  <circle cx="515.2" cy="620.4" r="8.8" fill="#232836"/>
  <circle cx="515.2" cy="620.4" r="5.6" fill="url(#rim)"/>
  <circle cx="552.2" cy="621.5" r="9.3" fill="#232836"/>
  <circle cx="552.2" cy="621.5" r="6" fill="url(#rim)"/>
  <g stroke="#7a88a0" stroke-width="0.6"><path d="M515.2 615.3 V625.5 M510.1 620.4 H520.3"/><path d="M552.2 616 V627 M546.7 621.5 H557.7"/></g>
 </g>
</svg>
<!-- /HYBART -->

<!-- arrows -->
<svg width="1024" height="683" style="left:0;top:0" viewBox="0 0 1024 683">
  <path d="M488 180 L505 180 L505 189 L515 195.5 L496.5 207 L478 195.5 L488 189 Z" fill="#000"/>
  <path d="M486 297 L505 297 L505 301.4 L514 301.4 L495.5 315 L477 301.4 L486 301.4 Z" fill="#111a2a"/>
  <path d="M489 435.3 L509 435.3 L509 441 L519 441 L499 454 L478.5 441 L489 441 Z" fill="#000"/>
  <path d="M454 530.3 L476 530.3 L476 536 L485.6 536 L464.5 549.3 L443 536 L454 536 Z" fill="#000"/>
  <path d="M786 376.2 L799 359.5 L799 368.5 L812.5 368.5 L812.5 384.3 L799 384.3 L799 393 Z" fill="#1f2b30"/>
  <!-- feedback up arrow + divider -->
  <line x1="828" y1="386" x2="984" y2="386" stroke="#84a581" stroke-width="1.6"/>
  <path d="M905.6 368.4 L918 380.2 L911 380.2 L911 392 L900 392 L900 380.2 L893.5 380.2 Z" fill="#18291d"/>
  <!-- perception triangle -->
  <path d="M505 257 L520 268 L505 279 Z" fill="#0e47a1"/>
  <!-- decision triangle -->
  <path d="M422.3 498.3 L436 508.2 L422.3 518.2 Z" fill="#b01a78"/>
  <!-- hybrid triangles -->
  <line x1="469" y1="607.6" x2="485" y2="607.6" stroke="#4a4f5c" stroke-width="1.5"/>
  <path d="M485 592.7 L499.7 607.1 L485 621.5 Z" fill="#3b4150"/>
  <path d="M604 595 L615.6 607.3 L604 619.6 Z" fill="#3b4150"/>
</svg>

<!-- texts -->
<div class="t hw" style="left:347px;top:217.3px;font-size:20px;letter-spacing:0.48px">Quantum Perception Layer</div>
<div class="t" style="left:224px;top:262.8px;font-size:15.5px;font-weight:bold;color:#1c1d3c">Quantum Sensors &amp; Data Encoding</div>
<div class="t" style="left:530px;top:263.8px;font-size:13.5px;color:#2b2e3c">Input: <i>Environment Data</i></div>

<div class="t hw" style="left:240.5px;top:325px;font-size:20px;letter-spacing:0.4px">Quantum Cognitive Engine (Quantum Mind)</div>
<div class="t md" style="left:234px;top:373.3px;font-size:15.63px;color:#2a2350">Superposition of Thoughts</div>
<div class="t md" style="left:145px;top:402.6px;font-size:15.53px;color:#2a2350">Quantum Reasoning &amp; Entanglement</div>

<div class="t hw" style="left:347px;top:462.3px;font-size:20px">Quantum Decision Layer</div>
<div class="t md" style="left:234px;top:499px;font-size:15.7px;color:#22244a">Quantum Measurement</div>
<div class="t md" style="left:485px;top:500.8px;font-size:15.09px;color:#22244a">Collapse to Action</div>

<div class="t hw" style="left:346px;top:558.1px;font-size:19.5px">Hybrid Execution Layer</div>
<div class="t md" style="left:206px;top:599.4px;font-size:14.63px;color:#1f2233">Classical &amp; Quantum Actions</div>
<div class="t md" style="left:620px;top:600.4px;font-size:13.84px;color:#1f2233">Real-World Interface</div>

<div class="t" style="left:827px;top:308.1px;font-size:12.88px;color:#fff;-webkit-text-stroke:0.45px #fff">Learning &amp; Feedback Loop</div>
<div class="t md" style="left:838px;top:349.7px;font-size:13.26px;color:#1c1d33;-webkit-text-stroke:0.45px #1c1d33">Reinforcement Learning</div>
<div class="t md" style="left:855px;top:401.2px;font-size:13.96px;color:#1c1d33;-webkit-text-stroke:0.5px #1c1d33">Adaptive Update</div>

</body></html>
